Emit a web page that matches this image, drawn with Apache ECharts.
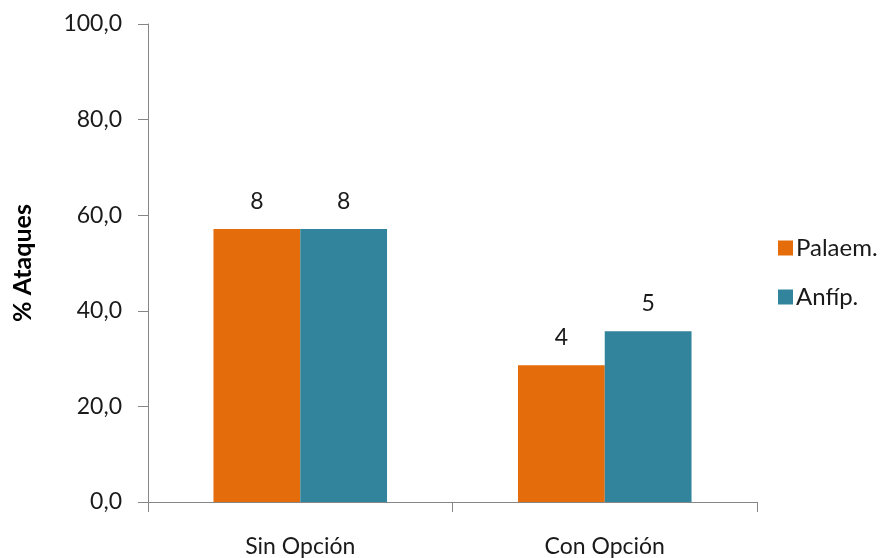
<!DOCTYPE html>
<html>
<head>
<meta charset="utf-8">
<script src="https://cdn.jsdelivr.net/npm/echarts@6/dist/echarts.min.js"></script>
<style>
  html, body { margin: 0; padding: 0; background: #fff; }
  #chart { width: 886px; height: 558px; }
</style>
</head>
<body>
<div id="chart"></div>
<script>
// Categories and series
const categories = ['Sin Opción', 'Con Opción'];
const seriesNames = ['Palaem.', 'Anfíp.'];
// Percentage of attacks (bar heights)
const palaemPct = [57.1, 28.6];
const anfipPct = [57.1, 35.7];
// Number of attacks (shown above each bar)
const palaemCount = [8, 4];
const anfipCount = [8, 5];
const yTicks = [0, 20, 40, 60, 80, 100];

const FONT = 'Lato';
const axisColor = '#868686';
const textColor = '#1a1a1a';

const chart = echarts.init(document.getElementById('chart'), null, { renderer: 'canvas' });

function makeSeries(name, values, counts, color) {
  return {
    name: name,
    type: 'bar',
    data: values,
    barGap: '0%',
    barCategoryGap: '43%',
    itemStyle: { color: color },
    label: {
      show: true,
      position: 'top',
      distance: 16,
      color: textColor,
      fontFamily: FONT,
      fontSize: 23,
      formatter: p => String(counts[p.dataIndex])
    }
  };
}

chart.setOption({
  animation: false,
  backgroundColor: '#ffffff',
  grid: {
    left: 148, right: 129, top: 24, bottom: 56,
    containLabel: false,
    outerBoundsMode: 'none'
  },
  legend: {
    orient: 'vertical',
    left: 773,
    top: 231,
    itemWidth: 15,
    itemHeight: 15,
    itemGap: 25,
    icon: 'rect',
    textStyle: { fontFamily: FONT, fontSize: 24, color: textColor, padding: [0, 0, 0, -2] },
    data: seriesNames
  },
  xAxis: {
    type: 'category',
    data: categories,
    axisLine: { lineStyle: { color: axisColor, width: 1 } },
    axisTick: { show: true, length: 10, alignWithLabel: false, lineStyle: { color: axisColor } },
    axisLabel: { margin: 33, fontFamily: FONT, fontSize: 23, color: textColor }
  },
  yAxis: {
    type: 'value',
    min: yTicks[0],
    max: yTicks[yTicks.length - 1],
    interval: yTicks[1] - yTicks[0],
    name: '% Ataques',
    nameLocation: 'middle',
    nameRotate: 90,
    nameGap: 113,
    nameTextStyle: { fontFamily: FONT, fontSize: 25, fontWeight: 'bold', color: '#000' },
    axisLine: { show: true, lineStyle: { color: axisColor, width: 1 } },
    axisTick: { show: true, length: 10, lineStyle: { color: axisColor } },
    splitLine: { show: false },
    axisLabel: {
      margin: 26,
      fontFamily: FONT,
      fontSize: 23,
      color: textColor,
      formatter: v => v.toFixed(1).replace('.', ',')
    }
  },
  series: [
    makeSeries(seriesNames[0], palaemPct, palaemCount, '#E46C0A'),
    makeSeries(seriesNames[1], anfipPct, anfipCount, '#31849B')
  ]
});
</script>
</body>
</html>
